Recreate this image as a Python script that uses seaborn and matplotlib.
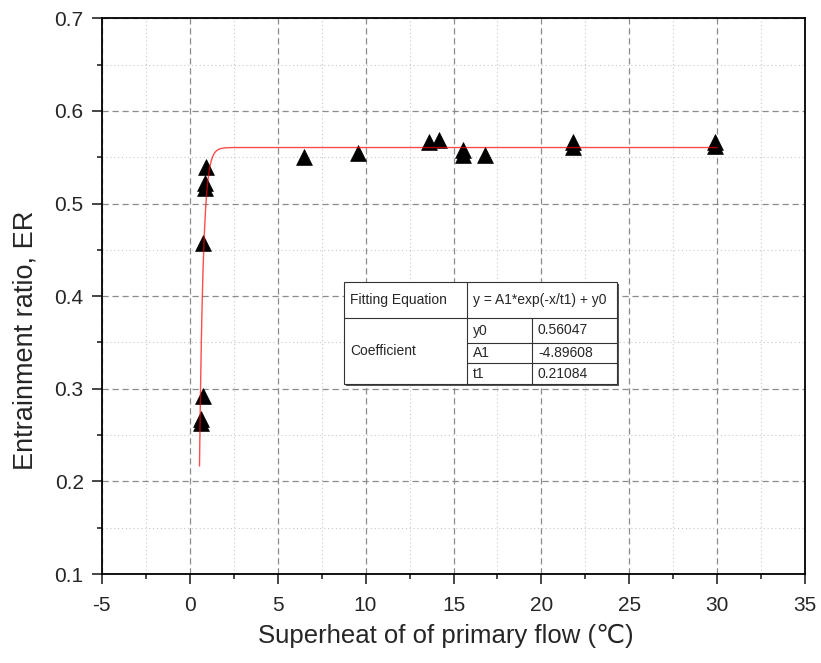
import numpy as np
import pandas as pd
import seaborn as sns
import matplotlib.pyplot as plt
import matplotlib.patches as patches
from matplotlib.ticker import MultipleLocator

# ========================================
# Data
# ========================================
superheat = [0.63, 0.63, 0.74, 0.78, 0.875, 0.875, 0.93,
             6.50, 9.56, 13.61, 14.20, 15.53, 15.56, 16.79,
             21.78, 21.78, 29.87, 29.87]
entrainment = [0.267, 0.263, 0.292, 0.457, 0.517, 0.522, 0.539,
               0.550, 0.555, 0.566, 0.569, 0.558, 0.552, 0.552,
               0.566, 0.561, 0.566, 0.562]

# ExpDec1 fit coefficients (shown in the table)
fit_y0 = 0.56047
fit_A1 = -4.89608
fit_t1 = 0.21084
fit_range = (0.56, 30.0)

table_rows = [("y0", "0.56047"), ("A1", "-4.89608"), ("t1", "0.21084")]

df = pd.DataFrame({"x": superheat, "y": entrainment})
x_fit = np.linspace(fit_range[0], fit_range[1], 600)
df_fit = pd.DataFrame({"x": x_fit, "y": fit_y0 + fit_A1 * np.exp(-x_fit / fit_t1)})

# ========================================
# Figure
# ========================================
sns.set_style("white")
plt.rcParams["font.family"] = ["Liberation Sans", "DejaVu Sans"]
plt.rcParams["axes.unicode_minus"] = False

W, H = 821, 663
fig = plt.figure(figsize=(W / 100, H / 100), dpi=100)
ax = fig.add_axes([101.7 / W, 1 - 574 / H, (805.3 - 101.7) / W, (574 - 18.3) / H])

sns.scatterplot(data=df, x="x", y="y", marker="^", s=130, color="black",
                edgecolor="black", linewidth=0.5, ax=ax, zorder=3)
sns.lineplot(data=df_fit, x="x", y="y", color="red", lw=1.0, alpha=0.7,
             ax=ax, zorder=4, sort=False, estimator=None)

ax.set_xlim(-5, 35)
ax.set_ylim(0.1, 0.7)
ax.xaxis.set_major_locator(MultipleLocator(5))
ax.xaxis.set_minor_locator(MultipleLocator(2.5))
ax.yaxis.set_minor_locator(MultipleLocator(0.05))
ax.set_yticks(np.arange(0.1, 0.71, 0.1))
ax.set_yticklabels([f"{v:.1f}" for v in np.arange(0.1, 0.71, 0.1)])

ax.grid(which="major", linestyle=(0, (5, 3)), color="#8c8c8c", lw=0.9)
ax.grid(which="minor", linestyle=(0, (1, 2.5)), color="#c8c8c8", lw=0.8)
ax.set_axisbelow(True)

ax.tick_params(which="major", direction="out", length=7, width=1.2,
               labelsize=15, bottom=True, left=True, top=False, right=False)
ax.tick_params(which="minor", direction="out", length=3.5, width=1.2,
               bottom=True, left=True, top=False, right=False)
ax.tick_params(axis="x", which="major", pad=9)
ax.tick_params(axis="y", which="major", pad=6)
for sp in ax.spines.values():
    sp.set_color("black")
    sp.set_linewidth(1.3)

ax.set_xlabel("Superheat of of primary flow (℃)", fontsize=18.5)
ax.set_ylabel("Entrainment ratio, ER", fontsize=19.5)
ax.xaxis.set_label_coords(0.489, -(624 - 574) / 555.7)
ax.yaxis.set_label_coords(-(101.7 - 38) / 703.6, 0.421)

# ========================================
# Fit table overlay (pixel geometry)
# ========================================
def fx(px):
    return px / W

def fy(py):
    return 1 - py / H

tl, tr = 344, 617
c1, c2 = 467, 532
r0, r1, r2, r3, r4 = 282, 318, 343, 363, 384

# shadow
fig.patches.append(patches.Rectangle((fx(tl + 2), fy(r4 + 2)), fx(tr - tl), (r4 - r0) / H,
                                     transform=fig.transFigure, facecolor="#555555",
                                     edgecolor="none", zorder=5))
fig.patches.append(patches.Rectangle((fx(tl), fy(r4)), fx(tr - tl), (r4 - r0) / H,
                                     transform=fig.transFigure, facecolor="white",
                                     edgecolor="#333333", lw=0.8, zorder=6))
line_kw = dict(transform=fig.transFigure, color="#333333", lw=0.8, zorder=7)
fig.add_artist(plt.Line2D([fx(tl), fx(tr)], [fy(r1), fy(r1)], **line_kw))
for r in (r2, r3):
    fig.add_artist(plt.Line2D([fx(c1), fx(tr)], [fy(r), fy(r)], **line_kw))
fig.add_artist(plt.Line2D([fx(c1), fx(c1)], [fy(r0), fy(r4)], **line_kw))
fig.add_artist(plt.Line2D([fx(c2), fx(c2)], [fy(r1), fy(r4)], **line_kw))

txt_kw = dict(fontsize=10, va="center", ha="left", zorder=8)
fig.text(fx(tl + 6), fy((r0 + r1) / 2), "Fitting Equation", **txt_kw)
fig.text(fx(c1 + 6), fy((r0 + r1) / 2), "y = A1*exp(-x/t1) + y0", **txt_kw)
fig.text(fx(tl + 6), fy((r1 + r4) / 2), "Coefficient", **txt_kw)
row_mids = [(r1 + r2) / 2, (r2 + r3) / 2, (r3 + r4) / 2]
for (name, val), ym in zip(table_rows, row_mids):
    fig.text(fx(c1 + 6), fy(ym), name, **txt_kw)
    fig.text(fx(c2 + 6), fy(ym), val, **txt_kw)

fig.savefig("out.png", dpi=100)
